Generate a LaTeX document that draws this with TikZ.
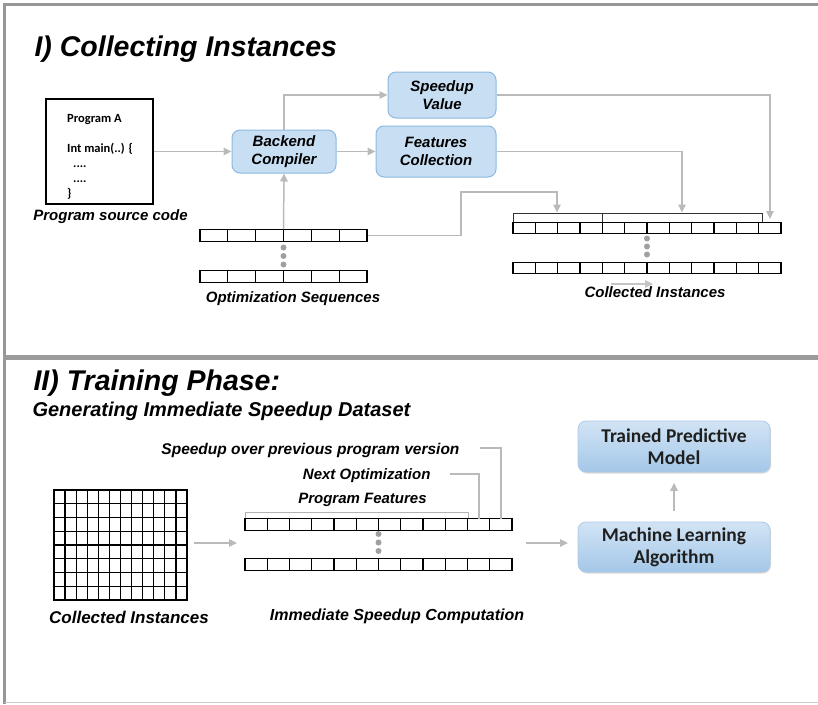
\documentclass[tikz,border=0pt]{standalone}
\usepackage{fontspec}
\setmainfont{Liberation Sans}
\newfontfamily\calfont{Carlito}
\usetikzlibrary{arrows.meta,shadows}

\definecolor{connc}{RGB}{186,186,186}
\definecolor{framec}{RGB}{150,150,150}
\definecolor{boxfill}{RGB}{200,222,242}
\definecolor{boxline}{RGB}{140,185,225}
\definecolor{mtop}{RGB}{210,228,245}
\definecolor{mbot}{RGB}{164,199,232}
\definecolor{mline}{RGB}{170,202,232}
\definecolor{dotc}{RGB}{160,160,160}

% a row of n equal cells: name, centre x, centre y, width, cells
\newcommand\cellrow[5]{%
  \node[rowbox, minimum width=#4pt] (#1) at (#2,#3) {};
  \pgfmathtruncatemacro\lastcell{#5-1}%
  \foreach \k in {1,...,\lastcell}{%
    \draw[rowline] ({#2-#4/2+\k*#4/#5},{#3-5.75}) -- ++(0,11.5);
  }%
}

\begin{document}
\begin{tikzpicture}[x=1pt,y=-1pt,
  conn/.style={draw=connc, line width=1.5pt, -{Triangle[length=8pt,width=7.5pt]}},
  plain/.style={draw=connc, line width=1.5pt},
  rowbox/.style={draw=black, line width=1.2pt, minimum height=11.5pt, inner sep=0pt},
  rowline/.style={draw=black, line width=1.2pt},
  pbox/.style={draw=boxline, fill=boxfill, rounded corners=8pt, line width=1pt,
    font=\bfseries\itshape\fontsize{15}{17.5}\selectfont, align=center, inner sep=0pt},
  mbox/.style={draw=mline, top color=mtop, bottom color=mbot, rounded corners=8pt, line width=0.8pt,
    drop shadow={shadow xshift=1pt, shadow yshift=-1.5pt, fill=black!30, opacity=0.5},
    font=\calfont\bfseries\fontsize{19.5}{22}\selectfont, text=black!88, align=center,
    minimum width=192pt, inner sep=0pt},
  title/.style={anchor=base west, font=\bfseries\itshape\fontsize{28.5}{30}\selectfont},
  lbl/.style={font=\bfseries\itshape\fontsize{15}{17}\selectfont},
  code/.style={anchor=base west, font=\calfont\bfseries\fontsize{12.5}{15}\selectfont, inner sep=0pt},
]
\useasboundingbox (0,0) rectangle (818,704);

% outer frame and section separator
\draw[framec, line width=3pt] (4.5,704) -- (4.5,4.5) -- (818,4.5);
\draw[framec!95, line width=5pt] (3,357) -- (818,357);
\draw[black!20, line width=1.5pt] (4.5,702.5) -- (818,702.5);

% ---------------- I) Collecting Instances ----------------
\node[title] (t1) at (31,56) {I) Collecting Instances};

\node[draw=black, line width=1.3pt, minimum width=107pt, minimum height=105pt, inner sep=0pt] (prog) at (99.5,151.5) {};
\node[code] (pa) at (67,122.5) {Program A};
\node[code] (pm) at (67,152) {Int main(..) \{};
\node[code] (pd1) at (73,167) {....};
\node[code] (pd2) at (73,182) {....};
\node[code] (pe) at (67,197) {\}};
\node[lbl] (psc) at (110.5,217) {Program source code};

\node[pbox, minimum width=104pt, minimum height=43pt] (backend) at (284,151.5) {Backend\\Compiler};
\node[pbox, minimum width=108pt, minimum height=46pt] (speed) at (442,95) {Speedup\\Value};
\node[pbox, minimum width=120pt, minimum height=51pt] (feat) at (436,151.5) {Features\\Collection};

% optimization sequences
\cellrow{optA}{283.5}{235.5}{167}{6}
\cellrow{optB}{283.5}{276.5}{167}{6}
\foreach \yy in {247.5,256,264.5} \fill[dotc] (283.5,\yy) circle (3pt);
\node[lbl] (osq) at (293,299) {Optimization Sequences};

% collected instances
\cellrow{collA}{647}{228}{268}{12}
\cellrow{collB}{647}{268}{268}{12}
\foreach \yy in {238.5,246.5,254.5} \fill[dotc] (647,\yy) circle (3pt);
\node[lbl] (cinst) at (655,292.5) {Collected Instances};

% brackets over the first collected row
\coordinate (bl) at (513,221.5);
\coordinate (bm) at (602.5,221.5);
\coordinate (br) at (762,221.5);
\draw[black!80, line width=1pt] (bl) -- ++(0,-8.5) -- ([yshift=8.5pt]br) -- (br);
\draw[black!80, line width=1pt] (bm) -- ++(0,-8.5);

% connectors
\draw[conn] (prog.east) -- (backend.west);
\draw[conn] (backend.north) |- (speed.west);
\draw[conn] (backend.east) -- (feat.west);
\draw[conn] (optA.north) -- (backend.south);
\coordinate (j1) at (461,192);
\coordinate (e1) at (557,212.5);
\draw[conn] (optA.east) -| (j1) -| (e1);
\coordinate (e2) at (682,212.5);
\draw[conn] (feat.east) -| (e2);
\coordinate (e3) at (770,219);
\draw[conn] (speed.east) -| (e3);
\coordinate (g1) at (611,284);
\coordinate (g2) at (653,284);
\draw[conn, draw=connc!85] (g1) -- (g2);

% ---------------- II) Training Phase ----------------
\node[title] (t2) at (30,390) {II) Training Phase:};
\node[anchor=base west, font=\bfseries\itshape\fontsize{20}{22}\selectfont] (t2s) at (29,416) {Generating Immediate Speedup Dataset};

% table of collected instances
\node[draw=black, line width=1.2pt, minimum width=133pt, minimum height=110pt, inner sep=0pt] (grid) at (120.5,545) {};
\foreach \k in {1,...,11} \draw[rowline] ({54+\k*133/12},490) -- ++(0,110);
\foreach \k in {1,...,7} \draw[rowline] (54,{490+\k*110/8}) -- ++(133,0);
\node[lbl, font=\bfseries\itshape\fontsize{17}{19}\selectfont] (gl) at (129,617) {Collected Instances};

% immediate speedup rows
\cellrow{iA}{378.5}{524.5}{267}{12}
\cellrow{iB}{378.5}{564.5}{267}{12}
\foreach \yy in {534,542.5,551} \fill[dotc] (378.5,\yy) circle (3pt);
\node[lbl, font=\bfseries\itshape\fontsize{16}{18}\selectfont] (isc) at (397,616) {Immediate Speedup Computation};

% field labels
\node[lbl] (pf) at (362.5,500) {Program Features};
\draw[black!30, line width=1pt] (245,518) -- (245,512) -- (468,512) -- (468,518);
\node[lbl, anchor=east] (no) at (434,476) {Next Optimization};
\coordinate (n1) at (450,474);
\coordinate (n2) at (479,518.5);
\draw[plain, line width=1.2pt] (n1) -| (n2);
\node[lbl, font=\bfseries\itshape\fontsize{15.5}{17}\selectfont, anchor=east] (sp) at (463,450) {Speedup over previous program version};
\coordinate (s1) at (480,448);
\coordinate (s2) at (501,518.5);
\draw[plain, line width=1.2pt] (s1) -| (s2);

% learning
\node[mbox, minimum height=50pt] (ml) at (674,547) {Machine Learning\\Algorithm};
\node[mbox, minimum height=51pt] (tpm) at (674,446.5) {Trained Predictive\\Model};

\coordinate (a1) at (194,543);
\coordinate (a2) at (237,543);
\draw[conn] (a1) -- (a2);
\coordinate (a3) at (526,543);
\coordinate (a4) at (568,543);
\draw[conn] (a3) -- (a4);
\draw[conn, shorten <=11pt, shorten >=10.5pt] (ml.north) -- (tpm.south);
\end{tikzpicture}
\end{document}
